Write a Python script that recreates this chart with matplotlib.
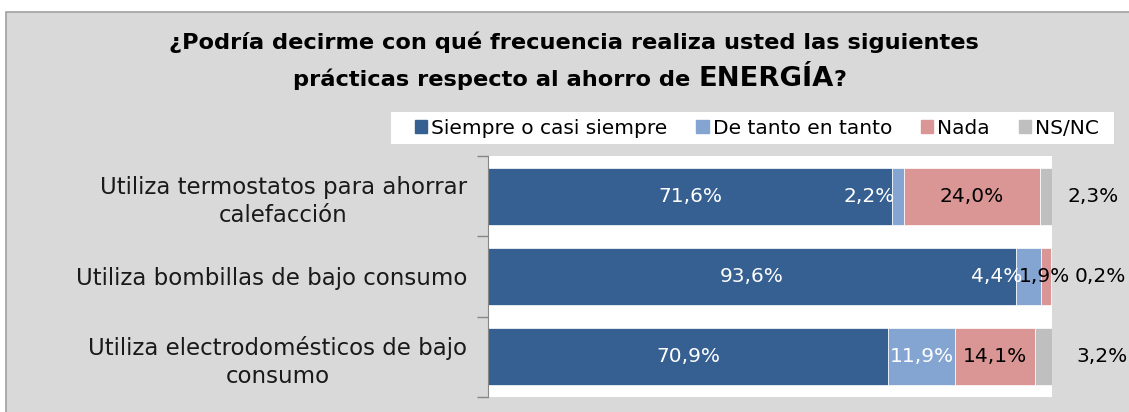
import numpy as np
import matplotlib
matplotlib.use("Agg")
import matplotlib.pyplot as plt
import matplotlib.patches as mpatches

# data
categories = ["Utiliza termostatos para ahorrar\ncalefacción",
              "Utiliza bombillas de bajo consumo",
              "Utiliza electrodomésticos de bajo\nconsumo"]
series_names = ["Siempre o casi siempre", "De tanto en tanto", "Nada", "NS/NC"]
siempre = [71.6, 93.6, 70.9]
de_tanto = [2.2, 4.4, 11.9]
nada = [24.0, 1.9, 14.1]
nsnc = [2.3, 0.2, 3.2]

colors = ["#366092", "#84A5D2", "#DA9694", "#BFBFBF"]
text_colors = ["white", "white", "black", "black"]

# label nudges in pixels (the original had some labels moved by hand)
label_nudge = {(0, 1): -29, (1, 1): -32, (1, 2): -2,
               (0, 3): 47, (1, 3): 48, (2, 3): 59}

FONT = "DejaVu Sans"
W, H = 1129, 412

fig = plt.figure(figsize=(W / 100, H / 100), dpi=100, facecolor="white")

# grey chart area with border
bg = mpatches.Rectangle((6 / W, -0.1), 1.1, (H - 12) / H + 0.1,
                        transform=fig.transFigure, fc="#D9D9D9", ec="#A0A0A0",
                        lw=1.2, zorder=-10)
fig.patches.append(bg)
# white box behind the legend
legbox = mpatches.Rectangle((391 / W, 1 - 144 / H), (1114 - 391) / W, 32 / H,
                            transform=fig.transFigure, fc="white", ec="none",
                            zorder=-5)
fig.patches.append(legbox)

ax = fig.add_axes([488 / W, 1 - 397 / H, (1052 - 488) / W, (397 - 156) / H])
ax.set_facecolor("white")

data = [siempre, de_tanto, nada, nsnc]
y = np.arange(len(categories))
left = np.zeros(len(categories))
for s, (vals, col) in enumerate(zip(data, colors)):
    ax.barh(y, vals, left=left, height=0.71, color=col, label=series_names[s],
            edgecolor="white", linewidth=0.5)
    for i, v in enumerate(vals):
        cx = left[i] + v / 2
        dx = label_nudge.get((i, s), 0)
        ax.annotate(f"{v:.1f}%".replace(".", ","), xy=(cx, i),
                    xytext=(dx, 0), textcoords="offset pixels",
                    ha="center", va="center", color=text_colors[s],
                    fontsize=14.5, family=FONT, annotation_clip=False)
    left = left + np.array(vals)

ax.set_xlim(0, 100)
ax.set_ylim(2.5, -0.5)
ax.xaxis.set_visible(False)
for sp in ["top", "right", "bottom"]:
    ax.spines[sp].set_visible(False)
ax.spines["left"].set_color("#868686")
ax.set_yticks(y)
ax.set_yticklabels(categories, fontsize=16.5, family=FONT, color="#1a1a1a",
                   multialignment="center", linespacing=1.28)
ax.tick_params(axis="y", which="major", length=0, pad=15)
ax.set_yticks([-0.5, 0.5, 1.5, 2.5], minor=True)
ax.tick_params(axis="y", which="minor", length=8, color="#868686", width=1)

# legend
handles = [mpatches.Patch(color=c, label=n) for c, n in zip(colors, series_names)]
leg = fig.legend(handles=handles, ncol=4, loc="center",
                 bbox_to_anchor=(757 / W, 1 - 128 / H), frameon=False,
                 handlelength=0.6, handleheight=0.6,
                 handletextpad=0.2, columnspacing=1.45, borderpad=0.3,
                 prop={"family": FONT, "size": 14.5})

# title, second line mixes two sizes
fig.text(574 / W, 1 - 42 / H,
         "¿Podría decirme con qué frecuencia realiza usted las siguientes",
         ha="center", va="center", fontsize=16.2, fontweight="bold", family=FONT)
pieces = [("prácticas respecto al ahorro de ", 16.2), ("ENERGÍA", 19.7), ("?", 16.2)]
texts = [fig.text(0, 0, p, fontsize=fs, fontweight="bold", family=FONT,
                  va="baseline", ha="left") for p, fs in pieces]
fig.canvas.draw()
r = fig.canvas.get_renderer()
widths = [t.get_window_extent(r).width for t in texts]
x0 = 570 - sum(widths) / 2
for t, w in zip(texts, widths):
    t.set_position((x0 / W, 1 - 86 / H))
    x0 += w

fig.savefig("out.png", dpi=100, facecolor=fig.get_facecolor())
